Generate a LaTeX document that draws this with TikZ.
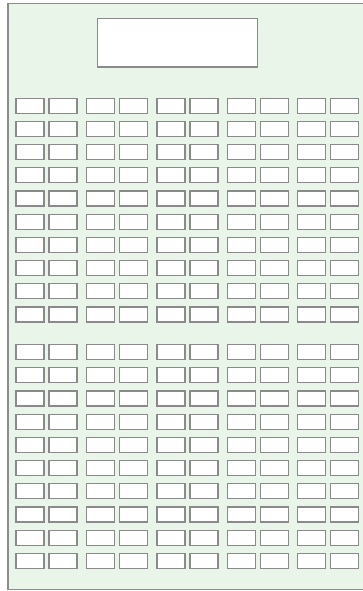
\documentclass[tikz,border=0pt]{standalone}
\definecolor{bgreen}{HTML}{E9F5E9}
\definecolor{frame}{HTML}{8C8C8C}
\definecolor{boxline}{HTML}{8A8A8A}
\begin{document}
\begin{tikzpicture}[x=1pt,y=-1pt,
  cell/.style={draw=boxline,fill=white,line width=1.2pt,minimum width=28pt,minimum height=15pt,inner sep=0pt,outer sep=0pt,anchor=center},
  bigbox/.style={draw=boxline,fill=white,line width=1.2pt,minimum width=160pt,minimum height=48.5pt,inner sep=0pt,outer sep=0pt,anchor=center}]
\useasboundingbox (0,0) rectangle (362,591);
\fill[bgreen] (8,3.5) rectangle (372,589.5);
\draw[frame,line width=1.3pt] (372,3.5) -- (8,3.5) -- (8,589.5) -- (372,589.5);
\node[bigbox] (top) at (177.5,42.7) {};
\foreach \r in {0,...,9}{
  \foreach \p in {0,...,4}{
    \node[cell] (a-\r-\p-1) at ({30+70.45*\p},{105.7+23.2*\r}) {};
    \node[cell] (a-\r-\p-2) at ({63+70.45*\p},{105.7+23.2*\r}) {};
    \node[cell] (b-\r-\p-1) at ({30+70.45*\p},{352+23.2*\r}) {};
    \node[cell] (b-\r-\p-2) at ({63+70.45*\p},{352+23.2*\r}) {};
  }
}
\end{tikzpicture}
\end{document}
